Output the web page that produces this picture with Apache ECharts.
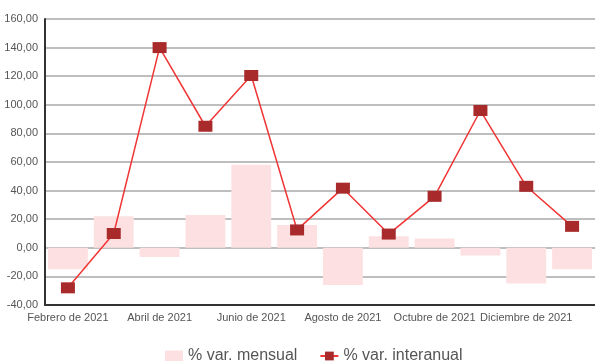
<!DOCTYPE html>
<html>
<head>
<meta charset="utf-8">
<script src="https://cdn.jsdelivr.net/npm/echarts@6/dist/echarts.min.js"></script>
<style>
  html, body { margin: 0; padding: 0; background: #fff; }
  #chart { width: 595px; height: 361px; }
</style>
</head>
<body>
<div id="chart"></div>
<script>
// meses
const months = ['Febrero de 2021', 'Marzo de 2021', 'Abril de 2021', 'Mayo de 2021', 'Junio de 2021',
    'Julio de 2021', 'Agosto de 2021', 'Septiembre de 2021', 'Octubre de 2021', 'Noviembre de 2021',
    'Diciembre de 2021', 'Enero de 2022'];
// % var. mensual (barras)
const varMensual = [-15, 22, -6.5, 23, 58, 16, -26, 8, 6.5, -5.4, -25, -15];
// % var. interanual (linea)
const varInteranual = [-28, 10, 140, 85, 120.5, 12.5, 41.7, 9.6, 36, 96, 43, 15];

let myChart = echarts.init(document.getElementById('chart'));

const fmt = v => v.toFixed(2).replace('.', ',');

myChart.setOption({
    animation: false,
    textStyle: { fontFamily: 'Liberation Sans' },
    grid: { left: 45, right: 0, top: 19, bottom: 56 },
    legend: {
        bottom: -8,
        left: 160,
        itemGap: 22,
        itemWidth: 18,
        itemHeight: 11,
        textStyle: { fontSize: 16, color: '#555' },
        data: [
            { name: '% var. mensual', icon: 'rect' },
            { name: '% var. interanual' }
        ]
    },
    xAxis: {
        type: 'category',
        data: months,
        boundaryGap: true,
        axisLine: { onZero: false, lineStyle: { color: '#333', width: 2 } },
        axisTick: { show: false },
        axisLabel: { interval: 1, color: '#555', fontSize: 11, margin: 7 }
    },
    yAxis: {
        type: 'value',
        min: -40,
        max: 160,
        interval: 20,
        axisLine: { show: true, lineStyle: { color: '#333', width: 2 } },
        axisTick: { show: false },
        axisLabel: { color: '#555', fontSize: 11, margin: 7, formatter: fmt },
        splitLine: { lineStyle: { color: '#a8a8a8', width: 1.5 } }
    },
    series: [{
        name: '% var. mensual',
        type: 'bar',
        data: varMensual,
        barCategoryGap: '13%',
        itemStyle: { color: '#fde0e1' }
    }, {
        name: '% var. interanual',
        type: 'line',
        data: varInteranual,
        symbol: 'rect',
        symbolSize: [14, 11],
        lineStyle: { color: '#f03535', width: 1.5 },
        itemStyle: { color: '#a82a2a', borderWidth: 0 },
        z: 3
    }]
});
</script>
</body>
</html>
